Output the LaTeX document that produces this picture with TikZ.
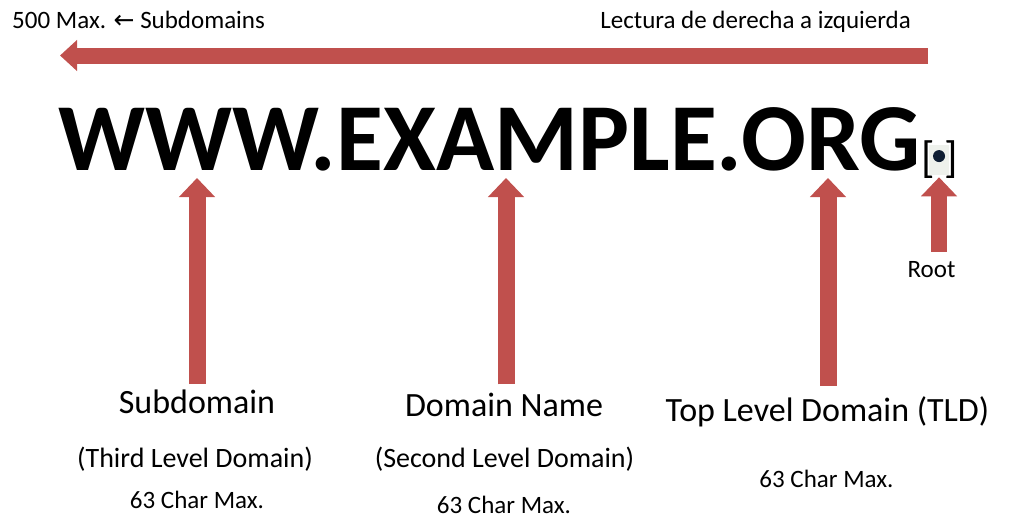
\documentclass[tikz,border=0pt]{standalone}
\usepackage{fontspec}
\setmainfont{Carlito}
\newfontfamily\arrowfont{DejaVu Sans}
\usetikzlibrary{arrows.meta,positioning}
\definecolor{arrowred}{HTML}{C0504D}
\definecolor{dotbox}{HTML}{EEF1EC}
\definecolor{dotnavy}{HTML}{0F1E33}
\tikzset{
	redarrow/.style={draw=arrowred,line width=17pt,-{Triangle[width=35pt,length=19pt]}},
	readarrow/.style={draw=arrowred,line width=16pt,-{Triangle[width=30pt,length=17pt]}},
	bigtext/.style={inner sep=0pt,font=\fontsize{96}{100}\selectfont\bfseries},
	label/.style={inner sep=0pt,font=\fontsize{34}{38}\selectfont},
	sublabel/.style={inner sep=0pt,font=\fontsize{28}{32}\selectfont},
	note/.style={inner sep=0pt,font=\fontsize{25}{29}\selectfont},
	bracket/.style={inner sep=0pt,font=\fontsize{44}{48}\selectfont}
}
\begin{document}
\begin{tikzpicture}[x=1pt,y=-1pt]
		\useasboundingbox (0,0) rectangle (1009,520);
		% reading direction
		\node[note,anchor=base west] (maxsub) at (12,28) {500 Max. {\arrowfont ←} Subdomains};
		\node[note,anchor=base east] (lectura) at (911,28) {Lectura de derecha a izquierda};
		\coordinate (readstart) at (928,55.5);
		\coordinate (readend) at (60,55.5);
		\draw[readarrow] (readstart) -- (readend);
		% the name
		\node[bigtext,anchor=base west] (url) at (58,170) {WWW.EXAMPLE.ORG};
		\node[bracket,anchor=base west] (lbr) at ([yshift=-2pt]url.base east) {[};
		\node[fill=dotbox,inner sep=0pt,minimum width=20,minimum height=30,right=-6pt of lbr.east,yshift=-1pt] (rootbox) {};
		\node[circle,fill=dotnavy,inner sep=0pt,minimum size=12] (rootdot) at ([yshift=4pt]rootbox.center) {};
		\node[bracket,anchor=west] (rbr) at ([xshift=-5pt]rootbox.east |- lbr.west) {]};
		% labels
		\node[label,anchor=base] (sub) at (197,413) {Subdomain};
		\node[sublabel,anchor=base] (subthird) at (195,467) {(Third Level Domain)};
		\node[note,anchor=base] (submax) at (197,508) {63 Char Max.};
		\node[label,anchor=base] (dom) at (504,416) {Domain Name};
		\node[sublabel,anchor=base] (domsecond) at (504.5,467) {(Second Level Domain)};
		\node[note,anchor=base] (dommax) at (504,513) {63 Char Max.};
		\node[label,anchor=base] (tld) at (827.5,421) {Top Level Domain (TLD)};
		\node[note,anchor=base] (tldmax) at (826.5,487) {63 Char Max.};
		\node[note,anchor=base] (root) at (931.5,277) {Root};
		% arrows up to the name
		\coordinate (subtip) at (197,178);
		\coordinate (domtip) at (506,178);
		\coordinate (tldtip) at (828,178);
		\draw[redarrow] (sub.north |- 0,384) -- (subtip);
		\draw[redarrow] (dom.north -| domtip) ++(0,-8) -- (domtip);
		\draw[redarrow] (tld.north -| tldtip) ++(0,-10) -- (tldtip);
		\draw[redarrow,line width=16pt] (root.north -| rootbox.south) ++(0,-9) -- ([yshift=-2pt]rootbox.south);
\end{tikzpicture}
\end{document}
